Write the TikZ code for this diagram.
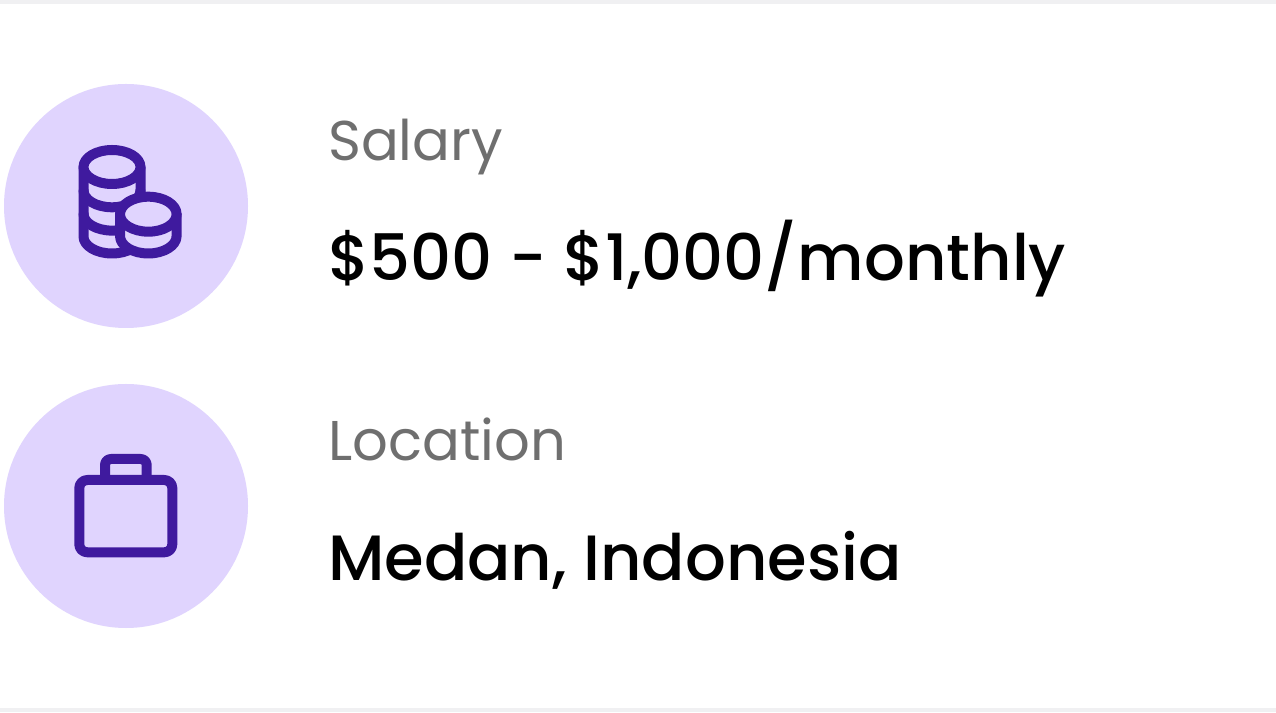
\documentclass[tikz,border=0pt]{standalone}
\usepackage{fontspec}
\setmainfont{Poppins}
\newfontfamily\valfont{Poppins Medium}
\definecolor{bar}{HTML}{F0F0F2}
\definecolor{disc}{HTML}{E0D4FE}
\definecolor{ink}{HTML}{3F1A9E}
\definecolor{mute}{HTML}{6F6F6F}
\tikzset{
  x=1pt,y=1pt,
  disc/.style={circle,fill=disc,draw=none,minimum size=244pt,inner sep=0pt},
  caption/.style={anchor=base west,inner sep=0pt,text=mute,font=\fontsize{56}{56}\selectfont},
  val/.style={anchor=base west,inner sep=0pt,text=black,font=\valfont\fontsize{64}{64}\selectfont},
  icon/.style={draw=ink,line width=10pt,line cap=round,line join=round}
}
\begin{document}
\begin{tikzpicture}
\useasboundingbox (0,0) rectangle (1276,712);
\fill[white] (0,0) rectangle (1276,712);
\fill[bar] (0,708) rectangle (1276,712);
\fill[bar] (0,0) rectangle (1276,4);
\node[disc] (salarydisc) at (126,506) {};
\node[disc] (locationdisc) at (126,206) {};
\node[caption] (salarylabel) at (328,551) {Salary};
\node[val] (salaryvalue) at (328,431) {\$500 - \$1,000/monthly};
\node[caption] (locationlabel) at (328,251) {Location};
\node[val] (locationvalue) at (328,131) {Medan, Indonesia};
% coins
\draw[icon] (83.5,545) -- (83.5,475.5) arc[start angle=180,end angle=360,x radius=28.5,y radius=17] -- (140.5,545);
\draw[icon] (83.5,521.7) arc[start angle=180,end angle=360,x radius=28.5,y radius=17];
\draw[icon] (83.5,498.4) arc[start angle=180,end angle=360,x radius=28.5,y radius=17];
\draw[icon,fill=disc] (112,545) ellipse[x radius=28.5,y radius=17];
\draw[icon,fill=disc] (120,497.8) -- (120,476) arc[start angle=180,end angle=360,x radius=28.3,y radius=17.5] -- (176.6,497.8) -- cycle;
\draw[icon,fill=disc] (148.3,497.8) ellipse[x radius=28.3,y radius=17.5];
% briefcase
\draw[icon] (105,232) -- (105,247) arc[start angle=180,end angle=90,radius=6] -- (140.7,253) arc[start angle=90,end angle=0,radius=6] -- (146.7,232);
\draw[icon] (87.3,232) -- (164.3,232) arc[start angle=90,end angle=0,radius=8] -- (172.3,167.7) arc[start angle=0,end angle=-90,radius=8] -- (87.3,159.7) arc[start angle=-90,end angle=-180,radius=8] -- (79.3,224) arc[start angle=180,end angle=90,radius=8] -- cycle;
\end{tikzpicture}
\end{document}
